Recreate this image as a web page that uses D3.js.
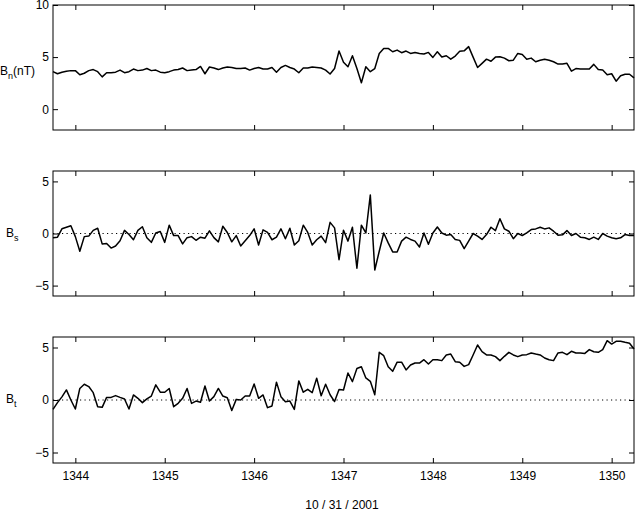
<!DOCTYPE html>
<meta charset="utf-8">
<body style="margin:0;background:#fff">
<script src="https://cdn.jsdelivr.net/npm/d3@7/dist/d3.min.js"></script>
<style>
svg { display:block; font-family: "Liberation Sans", Arial, sans-serif; }
.trace { fill:none; stroke:#000; stroke-width:1.5; stroke-linejoin:round; }
.zero { stroke:#000; stroke-width:1; stroke-dasharray:1.2 3.3; }
.frame { fill:none; stroke:#000; stroke-width:1; }
.tick line { stroke:#000; }
</style>
<svg id="thesvg" width="636" height="512"></svg>
<script>
// hours of day 304 (10/31/2001), one sample every 3 minutes
var startHour = 1343.75, stepHour = 0.05

var xTicks = [1344, 1345, 1346, 1347, 1348, 1349, 1350]
var bnTicks = [0, 5, 10]
var bstTicks = [-5, 0, 5]

var bn = [3.6,3.4,3.55,3.65,3.7,3.7,3.3,3.45,3.7,3.8,3.6,3.1,3.5,3.5,3.55,3.75,3.5,3.6,3.85,3.7,
  3.75,3.9,3.7,3.75,3.55,3.5,3.6,3.75,3.8,3.95,3.7,3.75,3.8,4.1,3.4,4.05,3.95,3.8,3.95,4.05,
  4.0,3.9,3.9,3.95,3.75,3.9,4.0,3.85,3.85,4.0,3.55,4.0,4.2,4.0,3.85,3.5,3.95,3.95,4.05,4.0,
  3.95,3.75,3.37,3.9,5.58,4.5,4.07,5.13,3.9,2.53,4.07,3.6,3.9,5.35,5.83,5.83,5.51,5.67,5.42,5.58,
  5.35,5.45,5.35,5.29,5.45,4.97,5.51,5.0,5.13,4.8,5.1,5.55,5.6,6.0,5.0,4.0,4.4,4.8,4.6,5.0,
  5.03,4.9,4.65,4.7,5.35,5.25,4.8,4.9,4.55,4.7,4.8,4.7,4.55,4.33,4.33,4.4,3.65,3.9,3.85,3.85,
  3.85,4.3,3.8,3.75,3.3,3.4,2.69,3.2,3.35,3.35,3.0]

var bs = [-0.4,-0.35,0.45,0.6,0.75,-0.3,-1.7,-0.3,-0.25,0.3,0.5,-1.0,-0.95,-1.4,-1.2,-0.7,0.3,-0.1,-0.6,0.3,
  0.65,-0.4,-0.85,0.05,0.2,-0.85,0.8,-0.2,-0.2,-1.0,-0.4,-0.3,-0.65,-0.35,-0.45,0.25,-0.4,-0.8,0.7,0.1,
  -0.8,-0.2,-1.2,-0.7,-0.2,0.45,-1.1,0.35,0.1,-0.6,-0.35,0.45,-0.5,0.5,-1.1,-0.7,0.8,0.1,-1.1,-0.6,
  -0.25,-0.88,1.07,0.54,-2.52,0.32,-0.73,0.6,-3.34,0.8,0.05,3.7,-3.5,-1.7,0.05,-0.9,-1.77,-1.77,-0.73,-0.35,
  -0.57,-0.73,-1.3,0.05,-1.04,0.05,0.63,0.05,-0.16,-0.1,-0.57,-0.66,-1.45,-0.73,0,-0.25,-0.57,-0.1,0.6,0.28,
  1.42,0.44,0.22,-0.5,0,-0.19,0.06,0.38,0.44,0.6,0.44,0.54,0.22,-0.16,-0.13,0.28,-0.19,0,-0.35,-0.41,
  -0.57,-0.35,-0.57,0,-0.25,-0.41,-0.5,-0.41,-0.1,-0.19,-0.19]

var bt = [-0.9,-0.25,0.3,0.96,0,-0.86,1.1,1.5,1.28,0.7,-0.64,-0.7,0.25,0.25,0.42,0.25,0.1,-0.86,0.48,0.16,
  -0.25,0.1,0.38,1.44,0.74,0.74,1.1,-0.64,-0.32,0.16,1.1,-0.32,-0.1,-0.22,1.34,-0.1,0.32,1.1,0.38,0.22,
  -1.0,0.06,0,0.38,0.38,1.53,0.16,0.48,-0.73,-0.57,1.7,0.32,-0.16,-0.1,-0.9,1.82,0.74,1.02,0.7,2.08,
  0.41,1.5,0.5,-0.15,1.0,0.95,2.57,1.75,3.0,3.17,2.1,1.78,0.5,4.54,4.22,3.17,2.73,3.6,3.6,2.86,
  3.33,3.52,3.52,3.84,3.43,3.84,3.84,3.75,4.29,4.38,3.65,3.59,3.2,3.37,4.29,5.24,4.6,4.29,4.29,4.13,
  3.75,4.16,4.54,4.29,4.13,4.29,4.32,4.48,4.38,4.29,4.0,3.84,3.75,4.48,4.54,4.32,4.64,4.48,4.48,4.44,
  4.8,4.6,4.54,4.8,5.65,5.33,5.59,5.59,5.49,5.4,4.86]

var hours = bn.map(function (d, i) { return startHour + i * stepHour })

var svg = d3.select('#thesvg')
var left = 53, right = 634

var x = d3.scaleLinear().domain([startHour, startHour + (bn.length - 1) * stepHour]).range([left, right])

var panels = [
  {vals: bn, dom: [-2, 10], ticks: bnTicks, top: 5, bot: 130, zero: false, lab: 'n', unit: '(nT)', labY: 75},
  {vals: bs, dom: [-6, 6], ticks: bstTicks, top: 171, bot: 296, zero: true, lab: 's', unit: '', labY: 237},
  {vals: bt, dom: [-6, 6], ticks: bstTicks, top: 337, bot: 463, zero: true, lab: 't', unit: '', labY: 403}
]

var styleAxis = function (g) {
  g.select('.domain').remove()
  g.selectAll('text').attr('font-family', '"Liberation Sans", Arial, sans-serif')
    .attr('font-size', 12).attr('fill', '#000')
}

panels.forEach(function (p, k) {
  var y = d3.scaleLinear().domain(p.dom).range([p.bot, p.top])
  var g = svg.append('g')

  if (p.zero) {
    g.append('line').attr('class', 'zero')
      .attr('x1', left).attr('x2', right)
      .attr('y1', y(0)).attr('y2', y(0))
  }

  g.append('path').attr('class', 'trace')
    .attr('d', d3.line().x(function (d, i) { return x(hours[i]) }).y(function (d) { return y(d) })(p.vals))

  g.append('g').attr('transform', 'translate(' + left + ',0)')
    .call(d3.axisLeft(y).tickValues(p.ticks).tickSize(-5).tickPadding(4).tickSizeOuter(0))
    .call(styleAxis)
  g.append('g').attr('transform', 'translate(' + right + ',0)')
    .call(d3.axisRight(y).tickValues(p.ticks).tickSize(-5).tickFormat('').tickSizeOuter(0))
    .call(styleAxis)
  g.append('g').attr('transform', 'translate(0,' + p.top + ')')
    .call(d3.axisTop(x).tickValues(xTicks).tickSize(-5).tickFormat('').tickSizeOuter(0))
    .call(styleAxis)
  var bx = d3.axisBottom(x).tickValues(xTicks).tickSize(-5).tickPadding(8).tickSizeOuter(0)
  if (k < 2) bx.tickFormat('')
  else bx.tickFormat(d3.format('d'))
  g.append('g').attr('transform', 'translate(0,' + p.bot + ')')
    .call(bx).call(styleAxis)

  g.append('rect').attr('class', 'frame')
    .attr('x', left).attr('y', p.top)
    .attr('width', right - left).attr('height', p.bot - p.top)

  var t = g.append('text').attr('x', k == 0 ? 0 : 6).attr('y', p.labY)
    .attr('font-size', 12).attr('fill', '#000')
  t.append('tspan').text('B')
  t.append('tspan').attr('font-size', 9).attr('dy', 4).text(p.lab)
  if (p.unit) t.append('tspan').attr('dy', -4).text(p.unit)
})

svg.append('text').attr('x', 342).attr('y', 509)
  .attr('text-anchor', 'middle').attr('font-size', 12).attr('fill', '#000')
  .text('10 / 31 / 2001')
</script>
</body>
